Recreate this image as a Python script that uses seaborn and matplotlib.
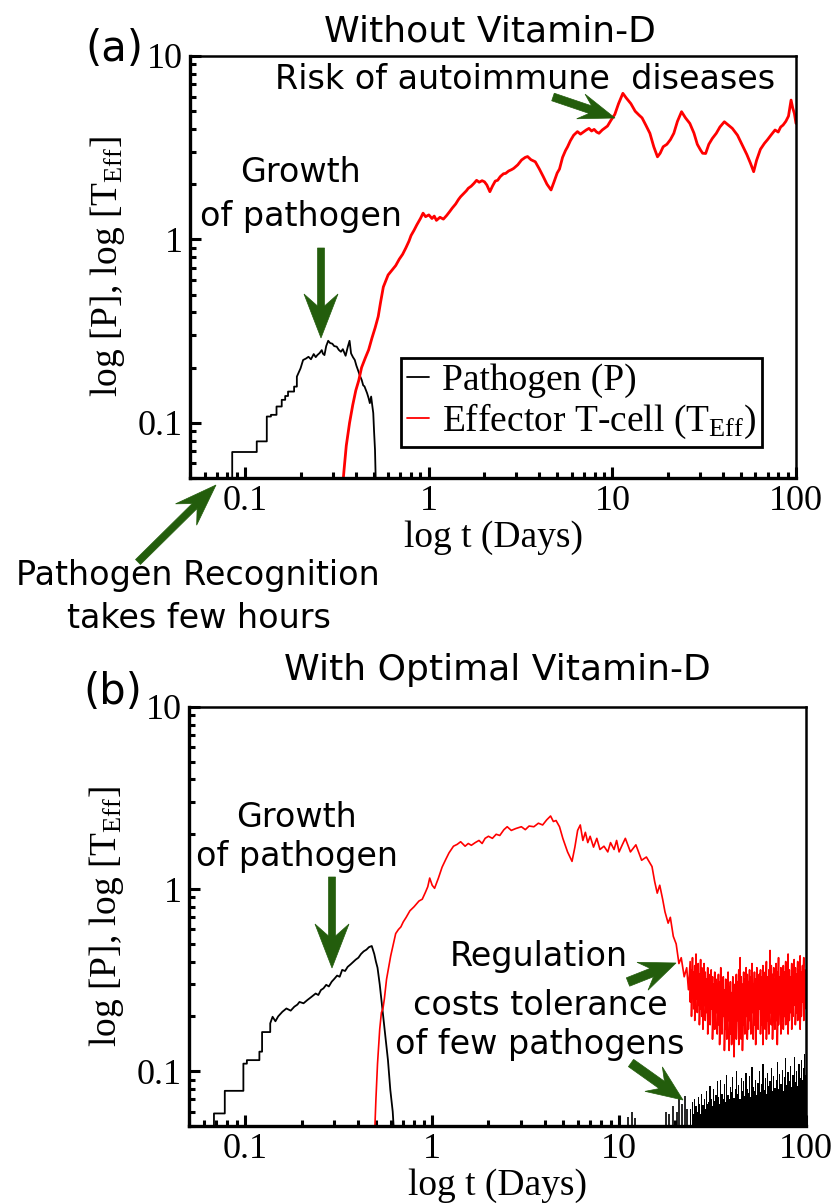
import matplotlib
matplotlib.use("Agg")
import numpy as np
import pandas as pd
import matplotlib.pyplot as plt
import seaborn as sns
from matplotlib.patches import Polygon
from matplotlib.ticker import FixedLocator, LogLocator, NullFormatter

# ---------------- data ----------------
x_ticks = [0.1, 1, 10, 100]
x_tick_labels = ["0.1", "1", "10", "100"]
y_ticks = [0.1, 1, 10]
y_tick_labels = ["0.1", "1", "10"]

# panel (a): pathogen
path_a_t = [0.0849, 0.0849, 0.1155, 0.1155, 0.131, 0.131, 0.138, 0.138, 0.148, 0.148,
            0.158, 0.158, 0.165, 0.165, 0.171, 0.171, 0.1845, 0.1845, 0.191, 0.191,
            0.2, 0.2066, 0.214, 0.221, 0.228, 0.236, 0.242, 0.247, 0.254, 0.261,
            0.265, 0.27, 0.276, 0.283, 0.29, 0.298, 0.305, 0.315, 0.323, 0.332,
            0.34, 0.352, 0.362, 0.37, 0.377, 0.386, 0.395, 0.403, 0.411, 0.42,
            0.431, 0.439, 0.446, 0.455, 0.461, 0.47, 0.477, 0.485, 0.493, 0.498,
            0.503, 0.509, 0.516]
path_a_v = [0.04, 0.0693, 0.0693, 0.0792, 0.0792, 0.1082, 0.1082, 0.1105, 0.1105, 0.1227,
            0.1227, 0.1334, 0.1334, 0.14, 0.14, 0.148, 0.148, 0.1575, 0.1575, 0.1785,
            0.198, 0.22, 0.224, 0.229, 0.222, 0.237, 0.228, 0.234, 0.24, 0.249,
            0.238, 0.234, 0.262, 0.28, 0.272, 0.27, 0.262, 0.26, 0.25, 0.244,
            0.252, 0.232, 0.26, 0.28, 0.239, 0.228, 0.22, 0.205, 0.194, 0.182,
            0.171, 0.16, 0.158, 0.15, 0.145, 0.136, 0.128, 0.139, 0.122, 0.113,
            0.09, 0.0713, 0.04]

# panel (a): effector T-cells
teff_a_t = [0.336, 0.345, 0.355, 0.37, 0.385, 0.40, 0.415, 0.43, 0.45, 0.47,
            0.49, 0.51, 0.53, 0.545, 0.565, 0.585, 0.6, 0.63, 0.66, 0.69,
            0.72, 0.75, 0.78, 0.8, 0.83, 0.86, 0.9, 0.93, 0.96, 1.0,
            1.04, 1.07, 1.1, 1.15, 1.2, 1.25, 1.3, 1.34, 1.4, 1.45,
            1.49, 1.55, 1.6, 1.64, 1.7, 1.76, 1.82, 1.88, 1.95, 2.01,
            2.07, 2.15, 2.22, 2.3, 2.37, 2.45, 2.55, 2.62, 2.72, 2.82,
            2.9, 3.05, 3.2, 3.35, 3.45, 3.6, 3.8, 4.0, 4.2, 4.4,
            4.63, 4.8, 5.0, 5.15, 5.35, 5.55, 5.7, 5.9, 6.15, 6.45,
            6.7, 6.95, 7.2, 7.45, 7.7, 7.95, 8.2, 8.45, 8.8, 9.1,
            9.4, 9.8, 10.3, 10.8, 11.4, 11.9, 12.6, 13.3, 14.0, 14.5,
            15.2, 16.0, 16.8, 17.6, 18.2, 18.9, 19.8, 20.7, 21.6, 22.6,
            23.8, 25.0, 26.4, 27.8, 29.0, 30.2, 31.0, 32.2, 33.5, 35.0,
            36.8, 38.5, 40.7, 42.8, 45.0, 48.0, 51.5, 54.0, 56.5, 58.8,
            61.0, 64.0, 67.3, 70.0, 73.0, 76.9, 80.0, 82.5, 85.0, 88.0,
            91.0, 94.0, 96.0, 98.0, 100.0]
teff_a_v = [0.04, 0.055, 0.075, 0.1, 0.125, 0.15, 0.17, 0.2, 0.225, 0.25,
            0.29, 0.33, 0.38, 0.45, 0.55, 0.6, 0.64, 0.68, 0.72, 0.78,
            0.83, 0.9, 0.98, 1.05, 1.12, 1.2, 1.3, 1.39, 1.33, 1.36,
            1.3, 1.34, 1.27, 1.32, 1.29, 1.35, 1.42, 1.48, 1.56, 1.65,
            1.71, 1.78, 1.84, 1.9, 1.95, 2.02, 2.1, 2.05, 2.09, 2.06,
            1.98, 1.82, 1.95, 2.08, 2.1, 2.2, 2.28, 2.29, 2.36, 2.4,
            2.44, 2.55, 2.71, 2.8, 2.83, 2.72, 2.65, 2.42, 2.2, 2.0,
            1.86, 2.05, 2.3, 2.42, 2.8, 3.05, 3.2, 3.45, 3.7, 3.87,
            3.75, 3.85, 3.95, 4.03, 3.9, 3.98, 3.85, 3.79, 3.95, 4.05,
            4.15, 4.45, 4.8, 5.5, 6.26, 5.9, 5.5, 5.0, 4.75, 4.6,
            4.2, 3.79, 3.2, 2.82, 2.95, 3.2, 3.3, 3.5, 3.79, 4.4,
            4.97, 4.6, 4.29, 3.8, 3.3, 3.07, 2.95, 2.94, 3.3, 3.55,
            3.79, 4.1, 4.38, 4.2, 4.03, 3.7, 3.2, 2.9, 2.6, 2.34,
            2.7, 3.1, 3.34, 3.5, 3.7, 3.95, 3.85, 4.1, 4.2, 4.4,
            4.7, 5.75, 5.2, 4.86, 4.29]

# panel (b): pathogen
path_b_t = [0.068, 0.068, 0.0777, 0.0777, 0.0977, 0.0977, 0.102, 0.102, 0.119, 0.119,
            0.123, 0.123, 0.136, 0.136, 0.14, 0.145, 0.15, 0.158, 0.166, 0.175,
            0.183, 0.19, 0.195, 0.205, 0.215, 0.225, 0.238, 0.246, 0.254, 0.262,
            0.271, 0.28, 0.29, 0.30, 0.31, 0.32, 0.33, 0.342, 0.353, 0.365,
            0.377, 0.39, 0.403, 0.416, 0.43, 0.445, 0.459, 0.475, 0.49, 0.5,
            0.51, 0.524, 0.54, 0.56, 0.58, 0.597, 0.615, 0.63]
path_b_v = [0.04, 0.0586, 0.0586, 0.078, 0.078, 0.110, 0.110, 0.115, 0.115, 0.128,
            0.128, 0.164, 0.164, 0.183, 0.199, 0.188, 0.2, 0.212, 0.221, 0.215,
            0.226, 0.232, 0.24, 0.236, 0.246, 0.255, 0.267, 0.262, 0.279, 0.285,
            0.298, 0.292, 0.31, 0.322, 0.335, 0.33, 0.36, 0.355, 0.374, 0.385,
            0.397, 0.41, 0.42, 0.44, 0.455, 0.465, 0.48, 0.487, 0.44, 0.40,
            0.37, 0.30, 0.226, 0.16, 0.115, 0.079, 0.06, 0.04]

# panel (b): effector T-cells (rise and fall)
teff_b_t = [0.49, 0.5, 0.51, 0.524, 0.535, 0.545, 0.555, 0.57, 0.6, 0.638,
            0.66, 0.68, 0.7, 0.726, 0.76, 0.8, 0.85, 0.885, 0.92, 0.947,
            0.97, 1.0, 1.03, 1.08, 1.13, 1.18, 1.23, 1.3, 1.36, 1.42,
            1.5, 1.56, 1.62, 1.7, 1.78, 1.85, 1.92, 2.0, 2.1, 2.2,
            2.3, 2.42, 2.52, 2.65, 2.8, 3.0, 3.15, 3.3, 3.5, 3.7,
            3.9, 4.1, 4.3, 4.45, 4.6, 4.8, 5.0, 5.3, 5.6, 5.8,
            6.0, 6.2, 6.4, 6.6, 6.8, 7.0, 7.3, 7.6, 7.9, 8.3,
            8.7, 9.0, 9.4, 9.7, 10.0, 10.4, 10.8, 11.5, 12.3, 13.2,
            14.0, 15.0, 15.5, 16.0, 16.5, 17.1, 17.6, 18.3, 18.8, 19.5,
            20.2, 20.9, 21.5, 22.3, 23.0, 23.5]
teff_b_v = [0.04, 0.07, 0.11, 0.17, 0.21, 0.22, 0.25, 0.32, 0.43, 0.57,
            0.6, 0.62, 0.66, 0.7, 0.76, 0.8, 0.86, 0.88, 0.96, 1.03,
            1.15, 1.05, 1.01, 1.15, 1.32, 1.45, 1.58, 1.72, 1.76, 1.82,
            1.72, 1.78, 1.74, 1.8, 1.85, 1.78, 1.9, 1.95, 1.9, 2.0,
            1.97, 2.12, 2.2, 2.1, 2.15, 2.2, 2.12, 2.22, 2.2, 2.3,
            2.25, 2.4, 2.52, 2.35, 2.38, 2.2, 1.9, 1.6, 1.42, 1.7,
            2.1, 2.25, 1.85, 2.05, 1.8, 1.95, 1.7, 1.9, 1.65, 1.72,
            1.6, 1.8, 1.65, 1.85, 1.6, 1.75, 1.9, 1.6, 1.75, 1.44,
            1.5, 1.33, 1.1, 0.95, 1.05, 0.88, 0.75, 0.65, 0.7, 0.55,
            0.5, 0.39, 0.42, 0.33, 0.37, 0.28]

# panel (b): noisy steady state (days 24-100)
t_noise = [24.0, 24.4, 24.7, 25.1, 25.4, 25.8, 26.2, 26.5, 26.9, 27.3,
           27.7, 28.1, 28.5, 28.9, 29.4, 29.8, 30.2, 30.7, 31.1, 31.6,
           32.1, 32.5, 33.0, 33.5, 34.0, 34.5, 35.0, 35.5, 36.1, 36.6,
           37.2, 37.7, 38.3, 38.8, 39.4, 40.0, 40.6, 41.2, 41.8, 42.4,
           43.1, 43.7, 44.4, 45.0, 45.7, 46.4, 47.1, 47.8, 48.5, 49.2,
           49.9, 50.7, 51.4, 52.2, 53.0, 53.8, 54.6, 55.4, 56.2, 57.1,
           57.9, 58.8, 59.7, 60.5, 61.4, 62.4, 63.3, 64.2, 65.2, 66.2,
           67.2, 68.2, 69.2, 70.2, 71.3, 72.3, 73.4, 74.5, 75.6, 76.7,
           77.9, 79.0, 80.2, 81.4, 82.6, 83.9, 85.1, 86.4, 87.7, 89.0,
           90.3, 91.7, 93.0, 94.4, 95.8, 97.3, 98.7, 100.0]
teff_noise_hi = [0.40, 0.36, 0.42, 0.35, 0.38, 0.44, 0.36, 0.39, 0.34, 0.41,
                 0.37, 0.33, 0.39, 0.35, 0.32, 0.37, 0.34, 0.31, 0.36, 0.33,
                 0.30, 0.35, 0.32, 0.29, 0.34, 0.31, 0.37, 0.30, 0.33, 0.28,
                 0.32, 0.30, 0.35, 0.29, 0.31, 0.27, 0.33, 0.30, 0.28, 0.34,
                 0.31, 0.36, 0.42, 0.33, 0.30, 0.35, 0.32, 0.37, 0.34, 0.31,
                 0.36, 0.33, 0.39, 0.30, 0.35, 0.32, 0.37, 0.31, 0.34, 0.36,
                 0.33, 0.38, 0.31, 0.35, 0.40, 0.33, 0.36, 0.46, 0.38, 0.34,
                 0.37, 0.32, 0.39, 0.35, 0.42, 0.33, 0.37, 0.31, 0.38, 0.35,
                 0.40, 0.34, 0.44, 0.36, 0.33, 0.39, 0.35, 0.41, 0.37, 0.34,
                 0.40, 0.36, 0.43, 0.35, 0.38, 0.42, 0.36, 0.33]
teff_noise_lo = [0.24, 0.20, 0.26, 0.22, 0.19, 0.25, 0.21, 0.23, 0.18, 0.22,
                 0.20, 0.17, 0.23, 0.19, 0.21, 0.16, 0.20, 0.18, 0.22, 0.15,
                 0.19, 0.17, 0.21, 0.16, 0.18, 0.14, 0.19, 0.16, 0.20, 0.13,
                 0.17, 0.15, 0.19, 0.13, 0.16, 0.14, 0.18, 0.12, 0.16, 0.15,
                 0.19, 0.14, 0.17, 0.15, 0.13, 0.18, 0.16, 0.20, 0.15, 0.17,
                 0.19, 0.16, 0.21, 0.15, 0.18, 0.14, 0.19, 0.17, 0.22, 0.16,
                 0.18, 0.14, 0.20, 0.17, 0.15, 0.19, 0.16, 0.21, 0.18, 0.15,
                 0.20, 0.17, 0.19, 0.14, 0.18, 0.21, 0.16, 0.19, 0.17, 0.20,
                 0.18, 0.22, 0.16, 0.19, 0.21, 0.17, 0.20, 0.23, 0.18, 0.21,
                 0.19, 0.22, 0.17, 0.20, 0.24, 0.19, 0.22, 0.25]
path_noise = [0.062, 0.05, 0.068, 0.058, 0.07, 0.064, 0.06, 0.072, 0.066, 0.058,
              0.075, 0.065, 0.07, 0.062, 0.078, 0.066, 0.068, 0.083, 0.07, 0.064,
              0.08, 0.069, 0.074, 0.088, 0.072, 0.066, 0.09, 0.075, 0.07, 0.085,
              0.068, 0.095, 0.074, 0.07, 0.082, 0.077, 0.093, 0.071, 0.08, 0.1,
              0.075, 0.084, 0.07, 0.092, 0.078, 0.088, 0.073, 0.098, 0.08, 0.076,
              0.094, 0.072, 0.105, 0.082, 0.078, 0.09, 0.074, 0.086, 0.1, 0.077,
              0.085, 0.11, 0.079, 0.092, 0.075, 0.098, 0.083, 0.088, 0.104, 0.078,
              0.094, 0.081, 0.09, 0.112, 0.08, 0.096, 0.085, 0.102, 0.078, 0.093,
              0.118, 0.084, 0.099, 0.088, 0.107, 0.082, 0.095, 0.12, 0.087, 0.1,
              0.083, 0.109, 0.092, 0.115, 0.089, 0.104, 0.125, 0.095]
# sparse pathogen re-appearances before day 24
spike_t = [11.2, 11.7, 12.1, 17.9, 18.6, 19.4, 20.3, 21.0, 21.7, 22.5, 23.2]
spike_v = [0.056, 0.06, 0.055, 0.06, 0.058, 0.064, 0.06, 0.07, 0.066, 0.073, 0.062]

# ---------------- style ----------------
sns.set_style("ticks")
plt.rcParams["font.family"] = ["DejaVu Sans"]
plt.rcParams["text.color"] = "black"
plt.rcParams["axes.labelcolor"] = "black"
plt.rcParams["xtick.color"] = "black"
plt.rcParams["ytick.color"] = "black"
plt.rcParams["mathtext.fontset"] = "custom"
plt.rcParams["mathtext.rm"] = "Liberation Serif"
plt.rcParams["mathtext.it"] = "Liberation Serif:italic"
plt.rcParams["mathtext.bf"] = "Liberation Serif:bold"

W, H = 836, 1203
fig = plt.figure(figsize=(W / 100, H / 100), dpi=100)


def fx(px):
    return px / W


def fy(py):
    return 1 - py / H


ax_a = fig.add_axes([fx(190), fy(478), (796 - 190) / W, (478 - 56) / H])
ax_b = fig.add_axes([fx(189), fy(1126), (806 - 189) / W, (1126 - 707) / H])

SERIF = "Liberation Serif"
GREEN = "#235d0c"


def style_axes(ax):
    ax.set_xscale("log")
    ax.set_yscale("log")
    ax.set_xlim(0.05, 100)
    ax.set_ylim(0.05, 10)
    ax.xaxis.set_major_locator(FixedLocator(x_ticks))
    ax.yaxis.set_major_locator(FixedLocator(y_ticks))
    ax.set_xticklabels(x_tick_labels)
    ax.set_yticklabels(y_tick_labels)
    ax.xaxis.set_minor_locator(LogLocator(base=10, subs=np.arange(2, 10)))
    ax.yaxis.set_minor_locator(LogLocator(base=10, subs=np.arange(2, 10)))
    ax.xaxis.set_minor_formatter(NullFormatter())
    ax.yaxis.set_minor_formatter(NullFormatter())
    ax.tick_params(which="both", direction="in", top=False, right=False,
                   width=2.2, color="black", labelcolor="black")
    ax.tick_params(which="major", length=8, labelsize=26, pad=5,
                   labelfontfamily=SERIF)
    ax.tick_params(which="minor", length=4)
    for side in ["left", "bottom"]:
        ax.spines[side].set_linewidth(2.4)
    for side in ["top", "right"]:
        ax.spines[side].set_linewidth(1.8)
    for sp in ax.spines.values():
        sp.set_color("black")
    ax.set_xlabel("log t (Days)", fontsize=27, family=SERIF, labelpad=2,
                  color="black")
    ax.set_ylabel(r"log [P], log [T$_{\mathrm{Eff}}$]", fontsize=27,
                  family=SERIF, labelpad=8, color="black")


for ax in (ax_a, ax_b):
    style_axes(ax)

# ---------------- panel (a) ----------------
sns.lineplot(x=path_a_t, y=path_a_v, ax=ax_a, color="black", lw=1.3,
             estimator=None, sort=False, label="Pathogen (P)")
sns.lineplot(x=teff_a_t, y=teff_a_v, ax=ax_a, color="#ff0000", lw=2.0,
             estimator=None, sort=False,
             label=r"Effector T-cell (T$_{\mathrm{Eff}}$)")
ax_a.set_xlim(0.05, 100)
ax_a.set_ylim(0.05, 10)
leg = ax_a.legend(loc="upper left", bbox_to_anchor=(0.348, 0.284),
                  prop={"family": SERIF, "size": 27}, frameon=True,
                  fancybox=False, edgecolor="black", framealpha=1,
                  handlelength=0.6, handletextpad=0.35, labelspacing=0.1,
                  borderpad=0.15, borderaxespad=0)
leg.get_frame().set_linewidth(2.0)
for h in leg.get_lines():
    h.set_linewidth(1.3)

# ---------------- panel (b) ----------------
noise_t = np.repeat(t_noise, 2)
noise_v = np.column_stack([teff_noise_hi, teff_noise_lo]).ravel()

sns.lineplot(x=path_b_t, y=path_b_v, ax=ax_b, color="black", lw=1.3,
             estimator=None, sort=False, legend=False)
sns.lineplot(x=np.concatenate([teff_b_t, noise_t]),
             y=np.concatenate([teff_b_v, noise_v]), ax=ax_b,
             color="#ff0000", lw=1.2, estimator=None, sort=False, legend=False)
ax_b.fill_between(t_noise, 0.04, path_noise, step="mid", color="black", lw=0)
ax_b.vlines(spike_t, 0.04, spike_v, color="black", lw=1.2)
ax_b.set_xlim(0.05, 100)
ax_b.set_ylim(0.05, 10)

# ---------------- titles & annotations ----------------
fig.text(fx(490), fy(42), "Without Vitamin-D", fontsize=26, ha="center",
         va="baseline")
fig.text(fx(114), fy(61), "(a)", fontsize=30, ha="center", va="baseline")
fig.text(fx(497), fy(680), "With Optimal Vitamin-D", fontsize=26,
         ha="center", va="baseline")
fig.text(fx(113), fy(704), "(b)", fontsize=30, ha="center", va="baseline")

ann = dict(fontsize=24, ha="center", va="baseline")
fig.text(fx(525), fy(89), "Risk of autoimmune  diseases", **ann)
fig.text(fx(301), fy(182), "Growth", **ann)
fig.text(fx(301), fy(226), "of pathogen", **ann)
fig.text(fx(198), fy(585), "Pathogen Recognition", **ann)
fig.text(fx(199), fy(628), "takes few hours", **ann)
fig.text(fx(296), fy(827), "Growth", **ann)
fig.text(fx(297), fy(866), "of pathogen", **ann)
fig.text(fx(539), fy(966), "Regulation", **ann)
fig.text(fx(540), fy(1015), "costs tolerance", **ann)
fig.text(fx(540), fy(1054), "of few pathogens", **ann)


def arrow(p0, p1, hw, hl, notch, sw):
    """Notched (swallow-tail) arrow, geometry given in pixels."""
    p0 = np.array(p0, float)
    p1 = np.array(p1, float)
    u = (p1 - p0) / np.linalg.norm(p1 - p0)
    n = np.array([-u[1], u[0]])
    base = p1 - u * hl
    neck = p1 - u * (hl - notch)
    pts = [p0 + n * sw / 2, neck + n * sw / 2, base + n * hw / 2, p1,
           base - n * hw / 2, neck - n * sw / 2, p0 - n * sw / 2]
    pts = [(fx(x), fy(y)) for x, y in pts]
    fig.patches.append(Polygon(pts, closed=True, transform=fig.transFigure,
                               facecolor=GREEN, edgecolor=GREEN, lw=0.5))


arrow((321, 248), (321, 338), 34, 44, 12, 7)
arrow((553, 97), (615, 118), 26, 36, 10, 8)
arrow((138, 562), (216, 485), 30, 42, 12, 7)
arrow((332, 877), (332, 968), 34, 44, 12, 7)
arrow((628, 982), (676, 963), 30, 36, 10, 9)
arrow((631, 1063), (683, 1100), 30, 36, 10, 9)

fig.savefig("out.png", dpi=100)
